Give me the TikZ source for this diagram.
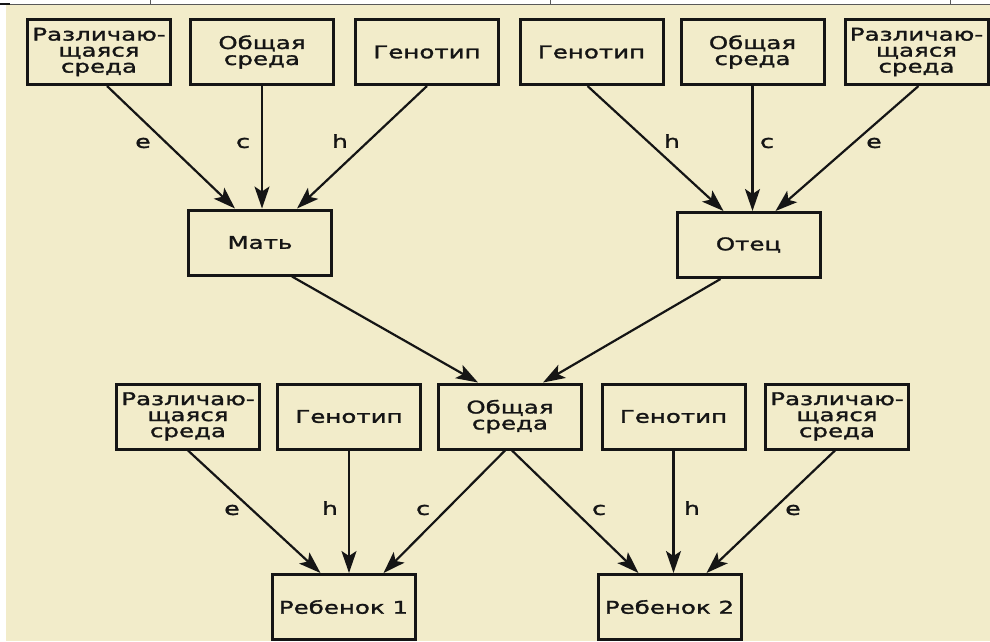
\documentclass[tikz,border=0pt]{standalone}
\usepackage{fontspec}
\newfontfamily\labfont[FakeStretch=1.4,FakeBold=1.6]{DejaVu Sans}
\usetikzlibrary{arrows.meta}
\definecolor{paper}{HTML}{F2ECCA}
\definecolor{ink}{HTML}{151515}
\tikzset{
  box/.style={draw=ink, line width=3pt, fill=paper, minimum width=143pt,
    minimum height=65pt, inner sep=0pt, align=center, text=ink,
    font=\labfont\fontsize{17.5}{16}\selectfont},
  link/.style={draw=ink, line width=2.2pt,
    -{Stealth[length=22pt,width=15pt,inset=5pt]}},
  coef/.style={font=\labfont\fontsize{18}{18}\selectfont, text=ink, inner sep=0pt},
}
\begin{document}
\begin{tikzpicture}[x=1pt, y=-1pt]
  \useasboundingbox (0,0) rectangle (990,641);
  % page background and top rule
  \fill[white] (0,0) rectangle (990,641);
  \fill[paper] (6,5) rectangle (990,641);
  \draw[gray!70!black, line width=1pt] (0,4) -- (990,4);
  \draw[ink, line width=2pt] (0,4) -- (10,4);
  \foreach \t in {150,550,950} \draw[gray!70!black, line width=1pt] (\t,0) -- (\t,4);

  % parents' sources
  \node[box] (T1) at (99,52)    {Различаю-\\щаяся\\среда};
  \node[box] (T2) at (262,52)   {Общая\\среда};
  \node[box] (T3) at (427,52)   {Генотип};
  \node[box] (T4) at (591.5,52) {Генотип};
  \node[box] (T5) at (752.5,52) {Общая\\среда};
  \node[box] (T6) at (916.5,52) {Различаю-\\щаяся\\среда};

  % parents
  \node[box] (M) at (260,242.5) {Мать};
  \node[box] (F) at (748.5,245) {Отец};

  % children's sources
  \node[box] (B1) at (188,416.5)   {Различаю-\\щаяся\\среда};
  \node[box] (B2) at (349,416.5)   {Генотип};
  \node[box] (C)  at (510,416.5)   {Общая\\среда};
  \node[box] (B4) at (673.5,416.5) {Генотип};
  \node[box] (B5) at (837,416.5)   {Различаю-\\щаяся\\среда};

  % children
  \node[box] (K1) at (343.5,607) {Ребенок 1};
  \node[box] (K2) at (669.5,607) {Ребенок 2};

  % paths into the mother
  \draw[link] ([xshift=8pt]T1.south) -- ([xshift=-25pt]M.north);
  \draw[link] (T2.south) -- (T2.south |- M.north);
  \draw[link] (T3.south) -- ([xshift=37pt]M.north);
  % paths into the father
  \draw[link] ([xshift=-4pt]T4.south) -- ([xshift=-25pt]F.north);
  \draw[link] (T5.south) -- (T5.south |- F.north);
  \draw[link] ([xshift=2pt]T6.south) -- ([xshift=27pt]F.north);
  % parents into the shared environment
  \draw[link] ([xshift=32pt]M.south) -- ([xshift=-32pt]C.north);
  \draw[link] ([xshift=-28pt]F.south) -- ([xshift=33pt]C.north);
  % paths into the children
  \draw[link] (B1.south) -- ([xshift=-23pt]K1.north);
  \draw[link] (B2.south) -- (B2.south |- K1.north);
  \draw[link] ([xshift=-5pt]C.south) -- ([xshift=40pt]K1.north);
  \draw[link] ([xshift=2pt]C.south) -- ([xshift=-31pt]K2.north);
  \draw[link] (B4.south) -- (B4.south |- K2.north);
  \draw[link] ([xshift=-2pt]B5.south) -- ([xshift=37pt]K2.north);

  % path coefficients
  \node[coef] (e1) at (143,143) {e};
  \node[coef] (c1) at (243,143) {c};
  \node[coef] (h1) at (340,141) {h};
  \node[coef] (h2) at (672,141) {h};
  \node[coef] (c2) at (767,143) {c};
  \node[coef] (e2) at (874,143) {e};
  \node[coef] (e3) at (232,510) {e};
  \node[coef] (h3) at (330,508) {h};
  \node[coef] (c3) at (423,510) {c};
  \node[coef] (c4) at (599,510) {c};
  \node[coef] (h4) at (692,508) {h};
  \node[coef] (e4) at (793,510) {e};
\end{tikzpicture}
\end{document}
